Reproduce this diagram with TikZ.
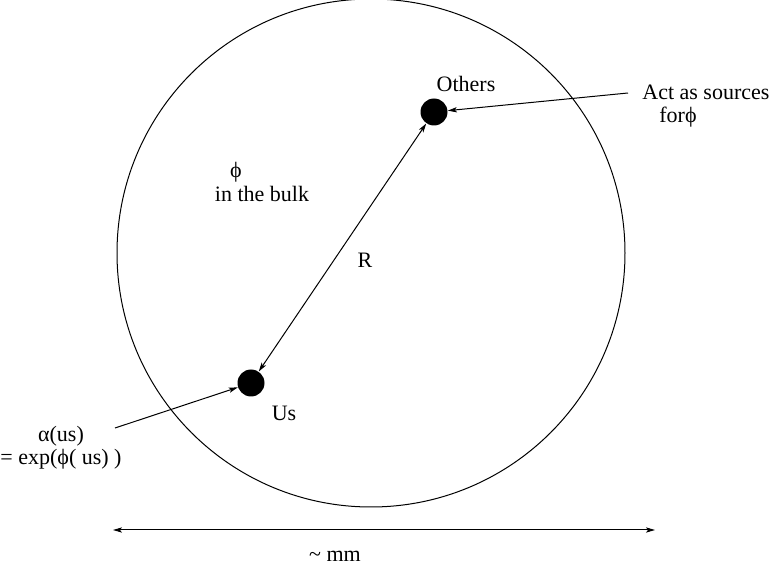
\documentclass[tikz,border=0pt]{standalone}
\usepackage{fontspec}
\setmainfont{Liberation Serif}
\usetikzlibrary{arrows.meta,positioning}

\begin{document}
\begin{tikzpicture}[
  x=0.5pt, y=-0.5pt,
  font=\fontsize{11}{11.5}\selectfont,
  >={Stealth[length=4.5pt, width=2.6pt, inset=1pt]},
  bulk/.style={draw, circle, line width=0.5pt, minimum size=254pt, inner sep=0pt, outer sep=0pt},
  dot/.style={circle, fill=black, minimum size=13.5pt, inner sep=0pt},
  lbl/.style={inner sep=1pt, align=center},
  flow/.style={->, line width=0.5pt},
  span/.style={<->, line width=0.5pt},
]
\useasboundingbox (0,0) rectangle (773,567);

% ---- the bulk and the two bodies in it ----
\node[bulk] (ball) at (371,253) {};
\node[dot] (oth) at (434,112) {};
\node[dot] (us) at (251,383) {};

\node[lbl] (othlbl) at (466,84) {Others};
\node[lbl] (uslbl) at (284,413) {Us};
\node[lbl] (philbl) at (236,172) {ϕ};
\node[lbl] (bulklbl) at (262,194) {in the bulk};
\node[lbl] (rlbl) at (365,260) {R};

\draw[span] (us) -- (oth);

% ---- sources on the right ----
\node[lbl, anchor=west] (src) at (640,92) {Act as sources};
\node[lbl, anchor=west] (srcfor) at (657,117) {forϕ};
\coordinate (srctail) at (628,93);
\draw[flow] (srctail) -- (oth);

% ---- coupling on the left ----
\node[lbl] (alpha) at (61,448) {α(us)\\= exp(ϕ( us) )};
\coordinate (alphatail) at (115,428);
\draw[flow] (alphatail) -- (us);

% ---- size of the whole thing ----
\coordinate (wl) at (113,530);
\coordinate (wr) at (655,530);
\draw[span] (wl) -- (wr);
\node[lbl] (mm) at (335,556) {\textasciitilde\ mm};
\end{tikzpicture}
\end{document}
